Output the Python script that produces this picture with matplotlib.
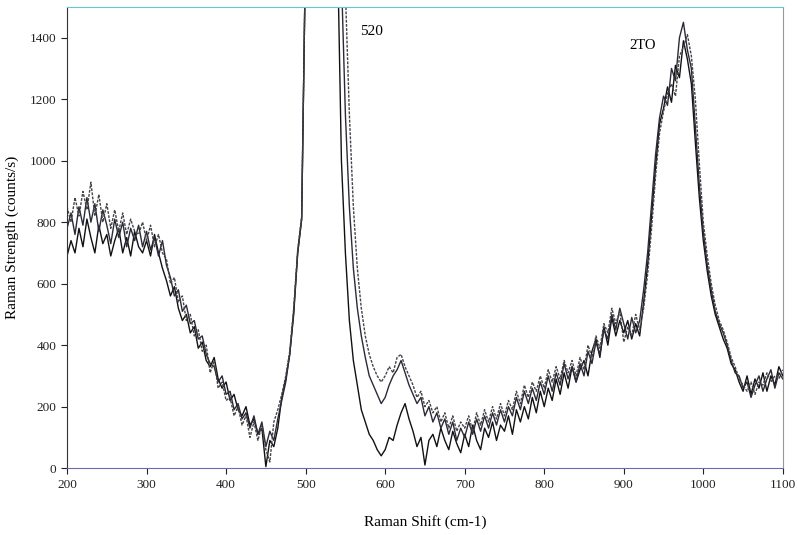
import numpy as np
import matplotlib
matplotlib.use("Agg")
import matplotlib.pyplot as plt

# Raman spectra of three samples (5 cm-1 steps)
shift = np.arange(200, 1101, 5)

spec_a = [
    690, 740, 700, 780, 720, 810, 750, 700, 790, 730,
    760, 690, 740, 780, 700, 750, 690, 770, 720, 700,
    740, 690, 760, 700, 650, 610, 560, 590, 520, 480,
    500, 440, 460, 390, 410, 350, 330, 360, 290, 260,
    280, 220, 240, 190, 170, 200, 140, 160, 110, 130,
    5, 90, 70, 130, 230, 290, 370, 500, 700, 810,
    1700, 3500, 7000, 9500, 10000, 8500, 5500, 3200, 1700, 1000,
    700, 480, 350, 270, 190, 150, 110, 90, 60, 40,
    60, 100, 90, 140, 180, 210, 160, 120, 70, 100,
    10, 90, 110, 70, 130, 90, 60, 120, 80, 50,
    110, 70, 140, 90, 60, 130, 100, 150, 90, 140,
    120, 170, 110, 190, 150, 200, 160, 230, 180, 250,
    200, 260, 220, 290, 240, 310, 260, 330, 280, 320,
    350, 300, 380, 420, 360, 460, 400, 490, 430, 480,
    440, 480, 420, 470, 430, 540, 660, 820, 980, 1120,
    1170, 1240, 1190, 1310, 1270, 1390, 1330, 1250, 1060, 880,
    740, 640, 560, 500, 460, 420, 390, 340, 320, 280,
    250, 300, 240, 290, 260, 310, 250, 300, 270, 330,
    300,
]

spec_b = [
    780, 830, 760, 850, 790, 880, 800, 860, 770, 840,
    790, 730, 810, 750, 800, 720, 780, 740, 790, 720,
    770, 710, 750, 690, 740, 660, 620, 560, 580, 510,
    530, 470, 480, 420, 430, 370, 340, 330, 280, 300,
    240, 250, 190, 210, 160, 180, 130, 170, 110, 150,
    70, 120, 90, 160, 220, 280, 370, 510, 700, 810,
    1700, 3500, 7000, 9500, 10000, 9000, 6500, 4000, 2500, 1600,
    1150, 850, 650, 520, 430, 360, 300, 270, 240, 210,
    230, 270, 300, 320, 350, 310, 270, 240, 210, 230,
    170, 200, 150, 180, 130, 160, 110, 150, 90, 130,
    100, 150, 110, 160, 120, 170, 130, 180, 140, 190,
    150, 200, 170, 230, 190, 250, 210, 260, 220, 280,
    240, 300, 250, 310, 270, 340, 290, 330, 280, 340,
    300, 380, 340, 410, 370, 450, 420, 500, 450, 520,
    470, 420, 490, 440, 480, 580, 700, 860, 1020, 1140,
    1210, 1180, 1300, 1260, 1400, 1450, 1360, 1300, 1110, 920,
    770, 660, 580, 510, 470, 440, 400, 350, 310, 300,
    260, 280, 230, 270, 300, 250, 290, 320, 260, 310,
    290,
]

spec_c = [
    850, 800, 880, 820, 900, 840, 930, 820, 890, 800,
    860, 780, 840, 770, 830, 760, 810, 770, 760, 800,
    740, 790, 720, 760, 700, 680, 600, 620, 540, 560,
    480, 500, 430, 450, 380, 400, 310, 350, 260, 280,
    220, 230, 170, 200, 140, 170, 100, 150, 90, 140,
    60, 20, 150, 190, 240, 300, 380, 520, 710, 820,
    1700, 3500, 7000, 9500, 10000, 9200, 7000, 4500, 3000, 1800,
    1550, 1150, 850, 650, 520, 430, 370, 330, 300, 280,
    300, 330, 310, 360, 370, 330, 300, 270, 230, 250,
    200, 220, 180, 200, 150, 180, 130, 170, 120, 150,
    130, 170, 120, 180, 140, 190, 150, 200, 160, 210,
    170, 220, 190, 250, 210, 270, 230, 280, 250, 300,
    260, 320, 280, 330, 290, 350, 310, 350, 300, 360,
    320, 400, 360, 430, 390, 470, 440, 520, 470, 510,
    410, 460, 430, 500, 450, 520, 630, 780, 950, 1090,
    1160, 1220, 1250, 1210, 1340, 1370, 1410, 1340, 1200, 990,
    800, 690, 600, 530, 480, 450, 410, 360, 330, 290,
    270, 250, 280, 240, 280, 270, 310, 280, 300, 290,
    320,
]

plt.rcParams['font.family'] = ['Liberation Serif', 'DejaVu Serif']

fig = plt.figure(figsize=(7.98, 5.35), dpi=100)
ax = fig.add_axes([0.084, 0.125, 0.897, 0.862])

ax.plot(shift, spec_a, color='#111111', lw=1.0)
ax.plot(shift, spec_b, color='#2a2a3a', lw=1.0)
ax.plot(shift, spec_c, color='#444444', lw=1.0, ls=(0, (2, 1)))

ax.set_xlim(200, 1100)
ax.set_ylim(0, 1500)
ax.set_xticks(range(200, 1101, 100))
ax.set_yticks(range(0, 1401, 200))
ax.tick_params(direction='out', length=4, width=0.8, labelsize=9.5, colors='#222222')

ax.spines['left'].set_color('#333333')
ax.spines['bottom'].set_color('#6b6bb0')
ax.spines['top'].set_color('#66c6d6')
ax.spines['right'].set_color('#999999')

ax.text(568, 1420, '520', fontsize=11, va='center', ha='left')
ax.text(907, 1374, '2TO', fontsize=10.5, va='center', ha='left')

ax.set_xlabel('Raman Shift (cm-1)', fontsize=11, labelpad=18)
ax.set_ylabel('Raman Strength (counts/s)', fontsize=11, labelpad=8)

fig.savefig('out.png', dpi=100)
